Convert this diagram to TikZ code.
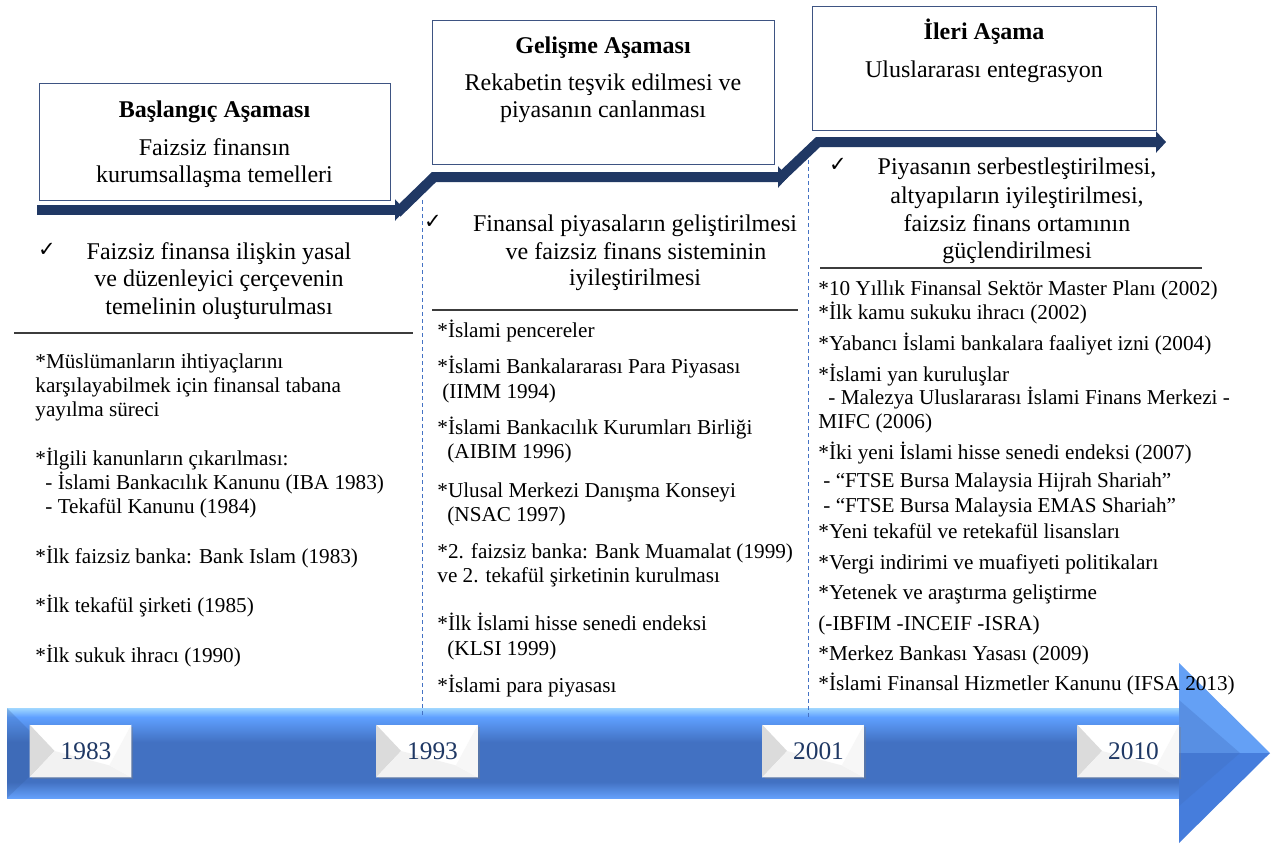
\documentclass[tikz,border=0pt]{standalone}
\usepackage{fontspec}
\setmainfont{Liberation Serif}
\newfontfamily\symfont{DejaVu Sans}
\usetikzlibrary{arrows.meta,shadows,calc}
\definecolor{navy}{RGB}{32,56,100}
\definecolor{boxline}{RGB}{62,84,130}
\definecolor{dashblue}{RGB}{68,114,196}
\definecolor{yeartext}{RGB}{31,56,100}
\definecolor{arrtop}{RGB}{160,215,255}
\definecolor{arrhi}{RGB}{95,160,255}
\definecolor{arrmid}{RGB}{66,113,194}
\definecolor{arrbot}{RGB}{100,160,250}
\definecolor{headhi}{RGB}{100,160,245}
\definecolor{headlo}{RGB}{70,125,220}
\definecolor{rulecol}{RGB}{60,60,60}
\pgfdeclareverticalshading{bigbody}{100bp}{color(0bp)=(arrbot); color(25bp)=(arrbot); color(34bp)=(arrmid); color(56bp)=(arrmid); color(70bp)=(arrhi); color(75bp)=(arrtop); color(100bp)=(arrtop)}
\begin{document}
\begin{tikzpicture}[x=0.5pt,y=-0.5pt,
  itm/.style={font=\fontsize{10.6}{12}\selectfont, anchor=base west, inner sep=0pt},
  chk/.style={font=\fontsize{12}{13}\selectfont, anchor=base, inner sep=0pt},
  ttl/.style={font=\fontsize{12}{13}\selectfont\bfseries, anchor=base, inner sep=0pt},
  tick/.style={font=\symfont\fontsize{10.5}{12}\selectfont, anchor=base, inner sep=0pt},
  phase/.style={draw=boxline, line width=0.7pt, fill=white, anchor=north west, inner sep=0pt},
  ybox/.style={fill=white, minimum width=50.5pt, minimum height=26pt, inner sep=0pt,
     drop shadow={opacity=0.35, shadow xshift=1pt, shadow yshift=-1.2pt}},
  ytxt/.style={font=\fontsize{12.7}{13}\selectfont, text=yeartext, inner sep=0pt},
  stepar/.style={draw=navy, line width=5pt, line join=miter,
     -{Triangle[width=10.5pt,length=5pt]}},
  sep/.style={draw=rulecol, line width=0.75pt},
  vdash/.style={draw=dashblue, line width=0.5pt, dash pattern=on 2pt off 1.5pt}]
\useasboundingbox (0,0) rectangle (1278,843);
\fill[white] (0,0) rectangle (1278,843);

% ---------- big timeline arrow ----------
\shade[shading=bigbody] (7,708) rectangle (1181,798);
\fill[headhi] (1179,663) -- (1270,753) -- (1179,753) -- cycle;
\fill[headlo] (1179,753) -- (1270,753) -- (1179,843) -- cycle;
\fill[arrmid, opacity=0.35] (1179,700) -- (1240,753) -- (1179,806) -- cycle;
\fill[arrmid!80!black, opacity=0.25] (7,708) -- (30,731) -- (30,776) -- (7,798) -- cycle;

% ---------- dashed separators ----------
\coordinate (d1t) at (422,200);
\coordinate (d1b) at (422,718);
\coordinate (d2t) at (808,160);
\coordinate (d2b) at (808,718);
\draw[vdash] (d1t) -- (d1b);
\draw[vdash] (d2t) -- (d2b);

% ---------- year boxes ----------
\foreach \nm/\cx/\yr in {a/80.5/1983, b/427/1993, c/813/2001, d/1128/2010}{
  \node[ybox] (yb\nm) at (\cx,751) {};
  \fill[gray!28] (yb\nm.north west) -- ($(yb\nm.west)+(25,0)$) -- (yb\nm.south west) -- cycle;
  \fill[gray!10] (yb\nm.south west) -- ($(yb\nm.west)+(25,0)$) -- ($(yb\nm.south east)+(-22,-12)$) -- (yb\nm.south east) -- cycle;
  \fill[gray!6] (yb\nm.north east) -- ($(yb\nm.south east)+(-22,-12)$) -- (yb\nm.south east) -- cycle;
  \node[ytxt] (yt\nm) at ($(yb\nm.center)+(5.5,0)$) {\yr};
}

% ---------- phase boxes ----------
\node[phase, minimum width=175.5pt, minimum height=58.5pt] (p1) at (39,83) {};
\node[phase, minimum width=171pt, minimum height=72pt] (p2) at (432,20) {};
\node[phase, minimum width=172pt, minimum height=62pt] (p3) at (812,6) {};

\node[ttl] (p1t) at (214.5,117) {Başlangıç Aşaması};
\node[chk] (p1a) at (214.5,155) {Faizsiz finansın};
\node[chk] (p1b) at (214.5,182) {kurumsallaşma temelleri};

\node[ttl] (p2t) at (603,53) {Gelişme Aşaması};
\node[chk] (p2a) at (603,90) {Rekabetin teşvik edilmesi ve};
\node[chk] (p2b) at (603,117) {piyasanın canlanması};

\node[ttl] (p3t) at (984,39) {İleri Aşama};
\node[chk] (p3a) at (984,77) {Uluslararası entegrasyon};

% ---------- stepped arrows ----------
\coordinate (s1a) at (37,210);
\coordinate (s1b) at (405,210);
\coordinate (s2a) at (397,213);
\coordinate (s2m) at (434,177);
\coordinate (s2b) at (788,177);
\coordinate (s3a) at (779,179);
\coordinate (s3m) at (818,142);
\coordinate (s3b) at (1166,142);
\draw[stepar] (s1a) -- (s1b);
\draw[stepar] (s2a) -- (s2m) -- (s2b);
\draw[stepar] (s3a) -- (s3m) -- (s3b);

% ---------- check items ----------
\node[tick] (k1) at (47,256) {✓};
\node[chk] (k1a) at (219,259) {Faizsiz finansa ilişkin yasal};
\node[chk] (k1b) at (219,286) {ve düzenleyici çerçevenin};
\node[chk] (k1c) at (219,314) {temelinin oluşturulması};

\node[tick] (k2) at (433,228) {✓};
\node[chk] (k2a) at (635,231) {Finansal piyasaların geliştirilmesi};
\node[chk] (k2b) at (636,259) {ve faizsiz finans sisteminin};
\node[chk] (k2c) at (635,285) {iyileştirilmesi};

\node[tick] (k3) at (838,171) {✓};
\node[chk] (k3a) at (1017,174) {Piyasanın serbestleştirilmesi,};
\node[chk] (k3b) at (1017,203) {altyapıların iyileştirilmesi,};
\node[chk] (k3c) at (1017,231) {faizsiz finans ortamının};
\node[chk] (k3d) at (1017,258) {güçlendirilmesi};

% ---------- rules ----------
\coordinate (r1a) at (14,333);  \coordinate (r1b) at (413,333);
\coordinate (r2a) at (432,310); \coordinate (r2b) at (798,310);
\coordinate (r3a) at (820,268); \coordinate (r3b) at (1202,268);
\draw[sep] (r1a) -- (r1b);
\draw[sep] (r2a) -- (r2b);
\draw[sep] (r3a) -- (r3b);

% ---------- column 1 ----------
\node[itm] (c1a) at (35,368) {*Müslümanların ihtiyaçlarını};
\node[itm] (c1b) at (35,392) {karşılayabilmek için finansal tabana};
\node[itm] (c1c) at (35,416) {yayılma süreci};
\node[itm] (c1d) at (35,465) {*İlgili kanunların çıkarılması:};
\node[itm] (c1e) at (45,489) {- İslami Bankacılık Kanunu (IBA 1983)};
\node[itm] (c1f) at (45,513) {- Tekafül Kanunu (1984)};
\node[itm] (c1g) at (35,563) {*İlk faizsiz banka: Bank Islam (1983)};
\node[itm] (c1h) at (35,612) {*İlk tekafül şirketi (1985)};
\node[itm] (c1i) at (35,662) {*İlk sukuk ihracı (1990)};

% ---------- column 2 ----------
\node[itm] (c2a) at (437,337) {*İslami pencereler};
\node[itm] (c2b) at (437,373) {*İslami Bankalararası Para Piyasası};
\node[itm] (c2c) at (442,398) {(IIMM 1994)};
\node[itm] (c2d) at (437,434) {*İslami Bankacılık Kurumları Birliği};
\node[itm] (c2e) at (447,458) {(AIBIM 1996)};
\node[itm] (c2f) at (437,497) {*Ulusal Merkezi Danışma Konseyi};
\node[itm] (c2g) at (447,521) {(NSAC 1997)};
\node[itm] (c2h) at (437,558) {*2. faizsiz banka: Bank Muamalat (1999)};
\node[itm] (c2i) at (437,582) {ve 2. tekafül şirketinin kurulması};
\node[itm] (c2j) at (437,630) {*İlk İslami hisse senedi endeksi};
\node[itm] (c2k) at (447,655) {(KLSI 1999)};
\node[itm] (c2l) at (437,692) {*İslami para piyasası};

% ---------- column 3 ----------
\node[itm] (c3a) at (818,295) {*10 Yıllık Finansal Sektör Master Planı (2002)};
\node[itm] (c3b) at (818,319) {*İlk kamu sukuku ihracı (2002)};
\node[itm] (c3c) at (818,350) {*Yabancı İslami bankalara faaliyet izni (2004)};
\node[itm] (c3d) at (818,381) {*İslami yan kuruluşlar};
\node[itm] (c3e) at (828,404) {- Malezya Uluslararası İslami Finans Merkezi -};
\node[itm] (c3f) at (818,428) {MIFC (2006)};
\node[itm] (c3g) at (818,459) {*İki yeni İslami hisse senedi endeksi (2007)};
\node[itm] (c3h) at (823,487) {- “FTSE Bursa Malaysia Hijrah Shariah”};
\node[itm] (c3i) at (823,512) {- “FTSE Bursa Malaysia EMAS Shariah”};
\node[itm] (c3j) at (818,538) {*Yeni tekafül ve retekafül lisansları};
\node[itm] (c3k) at (818,569) {*Vergi indirimi ve muafiyeti politikaları};
\node[itm] (c3l) at (818,599) {*Yetenek ve araştırma geliştirme};
\node[itm] (c3m) at (818,630) {(-IBFIM -INCEIF -ISRA)};
\node[itm] (c3n) at (818,660) {*Merkez Bankası Yasası (2009)};
\node[itm] (c3o) at (818,690) {*İslami Finansal Hizmetler Kanunu (IFSA 2013)};
\end{tikzpicture}
\end{document}
